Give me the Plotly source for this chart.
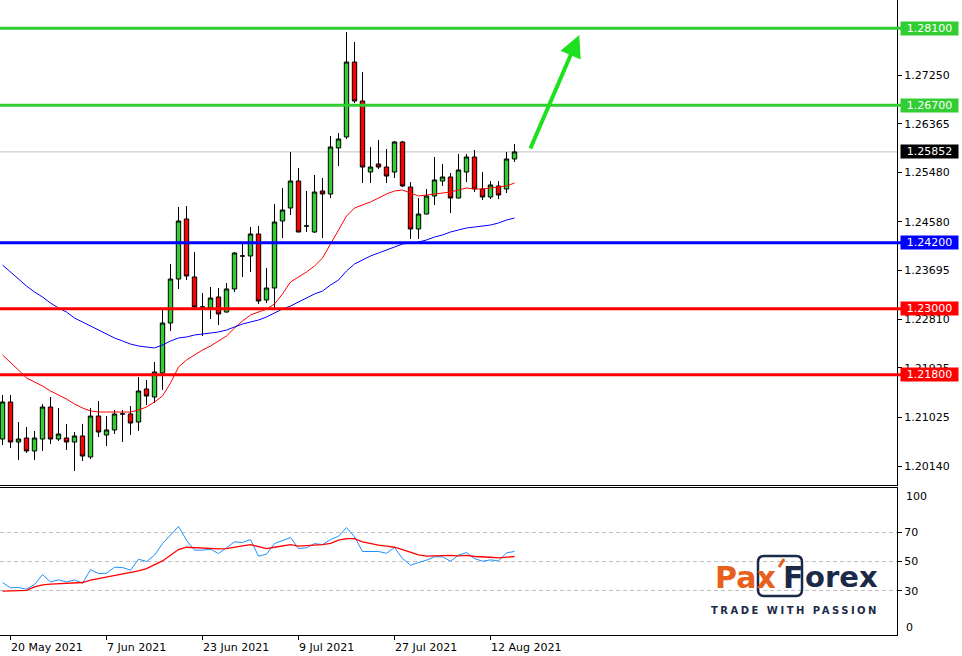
import plotly.graph_objects as go
import pandas as pd

# ---------------- data ----------------
dates = pd.bdate_range("2021-05-19", "2021-08-17").strftime("%Y-%m-%d").tolist()

opens = [1.20631, 1.21304, 1.20576, 1.20649, 1.20413, 1.20631, 1.21213, 1.20631, 1.20649, 1.20576,
         1.20686, 1.20304, 1.21049, 1.20704, 1.20795, 1.21086, 1.21086, 1.20940, 1.21540, 1.21395,
         1.21831, 1.22740, 1.23540, 1.24632, 1.23577, 1.23031, 1.23013, 1.23213, 1.22940, 1.23359,
         1.23959, 1.23959, 1.24359, 1.23159, 1.23377, 1.24595, 1.24832, 1.25322, 1.24504, 1.24395,
         1.25141, 1.25086, 1.25923, 1.26123, 1.27486, 1.26777, 1.25486, 1.25632, 1.25577, 1.25486,
         1.26032, 1.25213, 1.24450, 1.24722, 1.25050, 1.25322, 1.25395, 1.25013, 1.25486, 1.25759,
         1.25177, 1.25032, 1.25232, 1.25177, 1.25723]
highs = [1.21431, 1.21431, 1.20940, 1.20849, 1.20777, 1.21268, 1.21395, 1.21195, 1.20904, 1.20758,
         1.20904, 1.21195, 1.21322, 1.21049, 1.21158, 1.21158, 1.21231, 1.21758, 1.21704, 1.22031,
         1.23013, 1.23813, 1.24850, 1.24868, 1.24031, 1.23286, 1.23395, 1.23377, 1.23468, 1.24031,
         1.24177, 1.24486, 1.24504, 1.23741, 1.24904, 1.25195, 1.25850, 1.25559, 1.25141, 1.25432,
         1.25377, 1.26141, 1.26195, 1.28032, 1.27850, 1.27305, 1.25941, 1.26068, 1.25904, 1.26050,
         1.26050, 1.25304, 1.25013, 1.25177, 1.25759, 1.25632, 1.25468, 1.25814, 1.25814, 1.25886,
         1.25486, 1.25322, 1.25322, 1.25850, 1.25995]
lows = [1.20522, 1.20467, 1.20249, 1.20376, 1.20249, 1.20413, 1.20540, 1.20595, 1.20431, 1.20049,
        1.20231, 1.20267, 1.20667, 1.20504, 1.20722, 1.20576, 1.20704, 1.20777, 1.21249, 1.21286,
        1.21522, 1.22595, 1.23359, 1.23522, 1.23013, 1.22504, 1.22813, 1.22704, 1.22930, 1.23304,
        1.23577, 1.23668, 1.23086, 1.23104, 1.23013, 1.24286, 1.24704, 1.24390, 1.24395, 1.24377,
        1.24286, 1.25013, 1.25595, 1.26086, 1.26741, 1.25286, 1.25286, 1.25541, 1.25286, 1.25377,
        1.25213, 1.24268, 1.24268, 1.24715, 1.24886, 1.25232, 1.24741, 1.25005, 1.25304, 1.25122,
        1.24977, 1.24995, 1.24995, 1.25104, 1.25668]
closes = [1.21304, 1.20576, 1.20631, 1.20413, 1.20649, 1.21213, 1.20631, 1.20722, 1.20576, 1.20686,
          1.20322, 1.21049, 1.20758, 1.20795, 1.21086, 1.21086, 1.20922, 1.21504, 1.21413, 1.21849,
          1.22740, 1.23540, 1.24595, 1.23595, 1.23031, 1.23031, 1.23195, 1.22904, 1.23359, 1.24013,
          1.23959, 1.24359, 1.23140, 1.23377, 1.24577, 1.24795, 1.25322, 1.24395, 1.24504, 1.25122,
          1.25086, 1.25941, 1.26086, 1.27486, 1.26777, 1.25577, 1.25577, 1.25577, 1.25413, 1.26032,
          1.25232, 1.24450, 1.24722, 1.25050, 1.25341, 1.25395, 1.25013, 1.25523, 1.25759, 1.25177,
          1.25032, 1.25250, 1.25068, 1.25723, 1.25852]

ma_fast = [1.22159, 1.22031, 1.21886, 1.21740, 1.21668, 1.21595, 1.21504, 1.21431, 1.21358, 1.21268,
           1.21195, 1.21140, 1.21122, 1.21122, 1.21122, 1.21122, 1.21122, 1.21158, 1.21213, 1.21304,
           1.21413, 1.21649, 1.21940, 1.22068, 1.22159, 1.22249, 1.22322, 1.22413, 1.22504, 1.22649,
           1.22777, 1.22886, 1.22940, 1.22995, 1.23086, 1.23268, 1.23486, 1.23577, 1.23668, 1.23777,
           1.23922, 1.24177, 1.24432, 1.24686, 1.24832, 1.24886, 1.24941, 1.25013, 1.25086, 1.25141,
           1.25159, 1.25104, 1.25050, 1.25068, 1.25086, 1.25104, 1.25122, 1.25159, 1.25195, 1.25177,
           1.25177, 1.25195, 1.25213, 1.25232, 1.25286]
ma_slow = [1.23795, 1.23668, 1.23540, 1.23413, 1.23304, 1.23213, 1.23104, 1.23013, 1.22940, 1.22831,
           1.22759, 1.22686, 1.22613, 1.22540, 1.22468, 1.22413, 1.22358, 1.22322, 1.22304, 1.22286,
           1.22340, 1.22413, 1.22468, 1.22486, 1.22522, 1.22540, 1.22558, 1.22577, 1.22613, 1.22667,
           1.22722, 1.22759, 1.22795, 1.22850, 1.22922, 1.22995, 1.23049, 1.23122, 1.23195, 1.23268,
           1.23322, 1.23431, 1.23522, 1.23686, 1.23813, 1.23886, 1.23959, 1.24013, 1.24068, 1.24122,
           1.24177, 1.24195, 1.24213, 1.24250, 1.24304, 1.24341, 1.24395, 1.24432, 1.24468, 1.24486,
           1.24504, 1.24522, 1.24559, 1.24613, 1.24650]

rsi = [35.7, 32.1, 32.3, 31.2, 34.3, 41.1, 36.1, 37.5, 36.1, 37.5,
       35.2, 44.5, 41.8, 42.0, 46.1, 45.9, 44.1, 51.6, 50.0, 54.3,
       62.2, 67.9, 73.8, 64.5, 57.7, 57.7, 58.4, 55.4, 59.3, 63.4,
       62.9, 64.9, 53.6, 55.0, 62.2, 64.0, 66.3, 58.8, 59.3, 62.2,
       61.5, 64.9, 67.2, 73.1, 66.8, 56.8, 56.8, 56.8, 55.6, 59.5,
       52.0, 47.5, 49.3, 50.9, 53.2, 53.2, 50.2, 54.3, 56.1, 52.0,
       50.2, 51.1, 50.4, 55.9, 56.8]
rsi_signal = [29.8, 30.0, 30.0, 30.3, 32.7, 34.1, 34.6, 34.8, 35.2, 35.5,
              35.7, 37.3, 38.4, 39.5, 40.5, 41.4, 42.3, 43.6, 45.2, 47.7,
              50.4, 54.3, 58.1, 59.7, 59.5, 59.0, 58.6, 58.6, 58.8, 59.5,
              60.6, 61.5, 60.0, 58.8, 59.7, 60.6, 61.5, 60.4, 60.6, 60.9,
              61.5, 62.4, 64.5, 65.6, 65.6, 63.4, 62.2, 61.1, 60.4, 59.7,
              58.1, 56.3, 54.5, 53.6, 53.8, 54.1, 54.1, 53.8, 54.1, 53.4,
              52.9, 52.9, 52.5, 53.2, 53.4]

price_ticks = [1.27250, 1.26365, 1.25480, 1.24580, 1.23695, 1.22810, 1.21925, 1.21025, 1.20140]
level_prices = [1.28100, 1.26700, 1.24200, 1.23000, 1.21800]
level_colors = ["#32CD32", "#32CD32", "#0000FF", "#FF0000", "#FF0000"]
last_price = 1.25852
date_ticks = ["2021-05-20", "2021-06-07", "2021-06-23", "2021-07-09", "2021-07-27", "2021-08-12"]
date_labels = ["20 May 2021", "7 Jun 2021", "23 Jun 2021", "9 Jul 2021", "27 Jul 2021", "12 Aug 2021"]
rsi_levels = [70, 50, 30]
arrow_tail = (65.9, 1.25886)   # (bar position, price)
arrow_head = (72.1, 1.27977)

# ---------------- layout geometry (pixels) ----------------
W, H = 962, 656
PW, PH = 897, 635          # plot area
MAIN_BOTTOM = 485
RSI_TOP = 488
FONT = "DejaVu Sans"


def pxx(x):
    return x / PW


def pxy(y):
    return (PH - y) / PH


fig = go.Figure()

fig.add_trace(go.Candlestick(
    x=dates, open=opens, high=highs, low=lows, close=closes,
    increasing=dict(fillcolor="#32CD32", line=dict(color="black", width=1)),
    decreasing=dict(fillcolor="#FF0000", line=dict(color="black", width=1)),
    whiskerwidth=0, xaxis="x", yaxis="y", hoverinfo="skip", name="EURUSD"))
fig.add_trace(go.Scatter(x=dates, y=ma_fast, mode="lines", line=dict(color="#FF0000", width=1),
                         xaxis="x", yaxis="y", hoverinfo="skip"))
fig.add_trace(go.Scatter(x=dates, y=ma_slow, mode="lines", line=dict(color="#0000FF", width=1),
                         xaxis="x", yaxis="y", hoverinfo="skip"))
fig.add_trace(go.Scatter(x=dates, y=rsi, mode="lines", line=dict(color="#1E90FF", width=1),
                         xaxis="x2", yaxis="y2", hoverinfo="skip"))
fig.add_trace(go.Scatter(x=dates, y=rsi_signal, mode="lines", line=dict(color="#FF0000", width=1.3),
                         xaxis="x2", yaxis="y2", hoverinfo="skip"))

shapes = []
# current price line (behind candles)
shapes.append(dict(type="line", xref="paper", yref="y", x0=0, x1=1, y0=last_price, y1=last_price,
                   line=dict(color="#C0C0C0", width=1), layer="below"))
for p, c in zip(level_prices, level_colors):
    shapes.append(dict(type="line", xref="paper", yref="y", x0=0, x1=pxx(902), y0=p, y1=p,
                       line=dict(color=c, width=3), layer="above"))

# PaxForex logo box (rounded rect)
bx0, bx1, by0, by1, r = 758, 802, 556, 596, 6
rx, ry = r / PW, r / PH
X0, X1, Y0, Y1 = pxx(bx0), pxx(bx1), pxy(by1), pxy(by0)
path = (f"M {X0+rx},{Y0} L {X1-rx},{Y0} Q {X1},{Y0} {X1},{Y0+ry} L {X1},{Y1-ry} "
        f"Q {X1},{Y1} {X1-rx},{Y1} L {X0+rx},{Y1} Q {X0},{Y1} {X0},{Y1-ry} L {X0},{Y0+ry} "
        f"Q {X0},{Y0} {X0+rx},{Y0} Z")
shapes.append(dict(type="path", xref="paper", yref="paper", path=path,
                   line=dict(color="#1B2A47", width=2.5)))
shapes.append(dict(type="line", xref="paper", yref="paper", x0=pxx(779), y0=pxy(567),
                   x1=pxx(784), y1=pxy(559), line=dict(color="#E8601C", width=3)))

annotations = []
# level price boxes
for p, c in zip(level_prices, level_colors):
    annotations.append(dict(xref="paper", yref="y", x=pxx(900), y=p, xanchor="left", yanchor="middle",
                            text=f"{p:.5f}", showarrow=False, bgcolor=c, borderpad=0,
                            width=57, height=13, align="center",
                            font=dict(family=FONT, size=11, color="white")))
annotations.append(dict(xref="paper", yref="y", x=pxx(900), y=last_price, xanchor="left", yanchor="middle",
                        text=f"{last_price:.5f}", showarrow=False, bgcolor="black", borderpad=0,
                        width=57, height=13, align="center",
                        font=dict(family=FONT, size=11, color="white")))
# date labels (left aligned at tick like MT4)
for d, lab in zip(date_ticks, date_labels):
    annotations.append(dict(xref="x2", yref="paper", x=dates.index(d), y=pxy(639), xanchor="left",
                            yanchor="top", xshift=-2, text=lab, showarrow=False,
                            font=dict(family=FONT, size=11, color="black")))
# RSI 100 / 0 labels
annotations.append(dict(xref="paper", yref="paper", x=pxx(904), y=pxy(496), xanchor="left", yanchor="middle",
                        text="100", showarrow=False, font=dict(family=FONT, size=11, color="black")))
annotations.append(dict(xref="paper", yref="paper", x=pxx(904), y=pxy(627), xanchor="left", yanchor="middle",
                        text="0", showarrow=False, font=dict(family=FONT, size=11, color="black")))
# green arrow
annotations.append(dict(xref="x", yref="y", axref="x", ayref="y",
                        x=arrow_head[0], y=arrow_head[1], ax=arrow_tail[0], ay=arrow_tail[1],
                        showarrow=True, arrowhead=2, arrowsize=1.1, arrowwidth=4,
                        arrowcolor="#1EE01E", text=""))
# logo
annotations.append(dict(xref="paper", yref="paper", x=pxx(713), y=pxy(577), xanchor="left", yanchor="middle",
                        text="Pax", showarrow=False,
                        font=dict(family=FONT, size=30, color="#E8601C", weight="bold")))
annotations.append(dict(xref="paper", yref="paper", x=pxx(781), y=pxy(577), xanchor="left", yanchor="middle",
                        text="F", showarrow=False,
                        font=dict(family=FONT, size=30, color="#1B2A47", weight="bold")))
annotations.append(dict(xref="paper", yref="paper", x=pxx(803), y=pxy(577), xanchor="left", yanchor="middle",
                        text="orex", showarrow=False,
                        font=dict(family=FONT, size=29, color="#1B2A47", weight="bold")))
annotations.append(dict(xref="paper", yref="paper", x=pxx(795), y=pxy(610), xanchor="center", yanchor="middle",
                        text='<span style="letter-spacing:2.5px">TRADE WITH PASSION</span>', showarrow=False,
                        font=dict(family=FONT, size=10, color="#1B2A47", weight="bold")))

x_range = [-0.3125, 111.8125]
main_range = [1.197946, 1.286138]

fig.update_layout(
    width=W, height=H,
    margin=dict(l=0, r=W - PW, t=0, b=H - PH, autoexpand=False),
    paper_bgcolor="white", plot_bgcolor="white",
    showlegend=False, hovermode=False,
    boxgap=0.45, boxgroupgap=0,
    shapes=shapes, annotations=annotations,
    font=dict(family=FONT, size=11, color="black"),
    xaxis=dict(domain=[0, 1], anchor="y", type="category", categoryorder="array", categoryarray=dates,
               range=x_range, showline=True, linecolor="black", linewidth=1, showticklabels=False,
               ticks="", showgrid=False, zeroline=False, rangeslider=dict(visible=False), fixedrange=True),
    yaxis=dict(domain=[pxy(MAIN_BOTTOM), 1], anchor="x", side="right", range=main_range,
               tickvals=price_ticks, tickformat=".5f", ticks="outside", ticklen=4, tickcolor="black",
               showline=True, linecolor="black", linewidth=1, showgrid=False, zeroline=False,
               tickfont=dict(family=FONT, size=11, color="black"), fixedrange=True),
    xaxis2=dict(domain=[0, 1], anchor="y2", type="category", categoryorder="array", categoryarray=dates,
                range=x_range, matches="x", showline=True, mirror=True, linecolor="black", linewidth=1,
                ticks="outside", ticklen=4, tickcolor="black", tickvals=date_ticks, showticklabels=False,
                showgrid=False, zeroline=False, fixedrange=True),
    yaxis2=dict(domain=[0, pxy(RSI_TOP)], anchor="x2", side="right", range=[0, 100],
                tickvals=rsi_levels, ticks="outside", ticklen=4, tickcolor="black",
                showline=True, linecolor="black", linewidth=1,
                showgrid=True, gridcolor="#C0C0C0", griddash="4px,3px", gridwidth=1, zeroline=False,
                tickfont=dict(family=FONT, size=11, color="black"), fixedrange=True),
)

fig.write_html("out.html", config={"displayModeBar": False, "responsive": False},
               post_script="document.body.style.margin='0';document.body.style.padding='0';")
